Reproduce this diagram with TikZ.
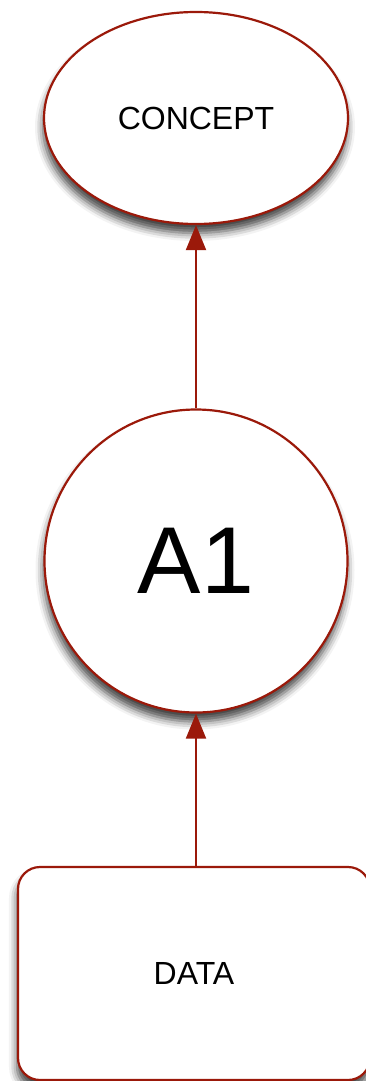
\documentclass[tikz,border=0pt]{standalone}
\usepackage{fontspec}
\setmainfont{Liberation Sans}
\usetikzlibrary{shapes.geometric,arrows.meta,shadows.blur}
\definecolor{edgered}{RGB}{155,25,10}
\begin{document}
\begin{tikzpicture}[x=1pt,y=-1pt,
  shapebase/.style={draw=edgered, line width=2.2pt, fill=white, inner sep=0pt,
    blur shadow={shadow xshift=-1pt, shadow yshift=-9pt, shadow blur radius=8pt, shadow opacity=75}},
  conceptnode/.style={shapebase, ellipse, minimum width=304pt, minimum height=212pt,
    font=\fontsize{32}{38}\selectfont},
  a1node/.style={shapebase, circle, minimum size=303pt, font=\fontsize{95}{110}\selectfont},
  datanode/.style={shapebase, rectangle, rounded corners=22pt, minimum width=352pt, minimum height=213pt,
    font=\fontsize{32}{38}\selectfont},
  link/.style={draw=edgered, line width=2pt, -{Triangle[length=25pt,width=20pt]}}
]
\useasboundingbox (0,0) rectangle (365,1081);
\node[conceptnode] (concept) at (196,118) {CONCEPT};
\node[a1node] (a1) at (196,561) {A1};
\node[datanode] (data) at (194,973.5) {DATA};
\draw[link] (a1.north) -- (concept.south);
\draw[link] (data.north -| a1.south) -- (a1.south);
\end{tikzpicture}
\end{document}
